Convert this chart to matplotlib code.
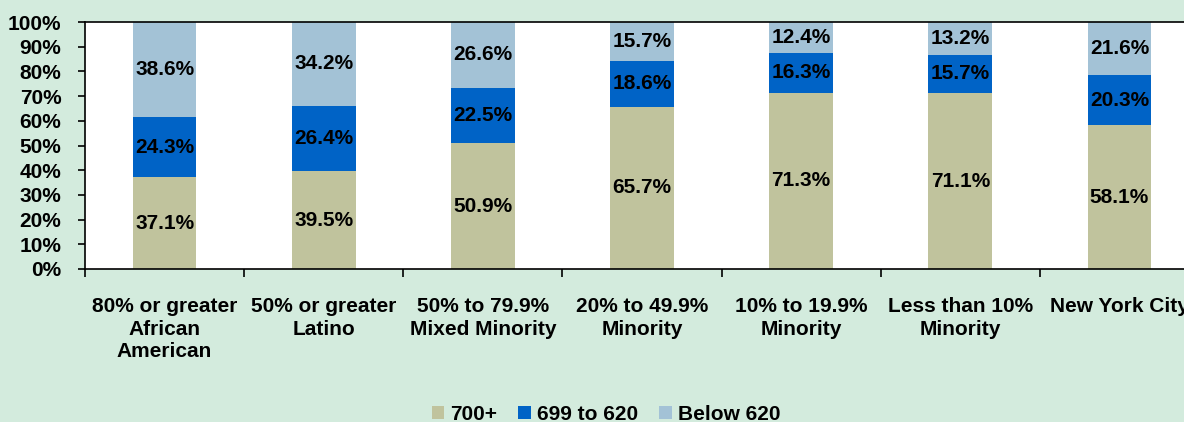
import numpy as np
import matplotlib.pyplot as plt

plt.rcParams['font.family'] = ['Liberation Sans', 'DejaVu Sans']
plt.rcParams['font.weight'] = 'bold'

categories = ["80% or greater\nAfrican\nAmerican", "50% or greater\nLatino",
              "50% to 79.9%\nMixed Minority", "20% to 49.9%\nMinority",
              "10% to 19.9%\nMinority", "Less than 10%\nMinority", "New York City"]
above_700 = [37.1, 39.5, 50.9, 65.7, 71.3, 71.1, 58.1]
mid_620_699 = [24.3, 26.4, 22.5, 18.6, 16.3, 15.7, 20.3]
below_620 = [38.6, 34.2, 26.6, 15.7, 12.4, 13.2, 21.6]
series_names = ["700+", "699 to 620", "Below 620"]

colors = ["#c0c39d", "#0063c6", "#a3c2d6"]
bg = "#d3ebdd"

fig = plt.figure(figsize=(11.84, 4.22), dpi=100, facecolor=bg)
ax = fig.add_axes([85 / 1184, 1 - 269 / 422, 1114 / 1184, 247 / 422])
ax.set_facecolor("white")

x = np.arange(len(categories))
bottom = np.zeros(len(categories))
for vals, name, c in zip([above_700, mid_620_699, below_620], series_names, colors):
    vals = np.array(vals)
    ax.bar(x, vals, 0.4, bottom=bottom, color=c, label=name)
    for xi, b, v in zip(x, bottom, vals):
        ax.text(xi, b + v / 2, f"{v:.1f}%", ha="center", va="center",
                fontsize=15, fontweight="bold", color="black")
    bottom += vals

ax.set_xlim(-0.5, len(categories) - 0.5)
ax.set_ylim(0, 100)
ax.set_yticks(np.arange(0, 101, 10))
ax.set_yticklabels([f"{v}%" for v in range(0, 101, 10)], fontsize=15, fontweight="bold")
ax.set_xticks(x)
ax.set_xticklabels(categories, fontsize=15, fontweight="bold", linespacing=1.25)
ax.set_xticks(np.arange(-0.5, len(categories), 1), minor=True)
ax.tick_params(axis="x", which="major", length=0, pad=20)
ax.tick_params(axis="x", which="minor", length=6, width=1.2, direction="out")
ax.tick_params(axis="y", length=5, width=1.2, direction="out", pad=12)
for s in ax.spines.values():
    s.set_color("black")
    s.set_linewidth(1.2)

fig.legend(loc="center", bbox_to_anchor=(606 / 1184, 8 / 422), ncol=3, frameon=False,
           prop={"size": 15, "weight": "bold"}, handlelength=0.6, handleheight=0.6,
           handletextpad=0.3, columnspacing=1.0)

fig.savefig("out.png", dpi=100, facecolor=bg)
